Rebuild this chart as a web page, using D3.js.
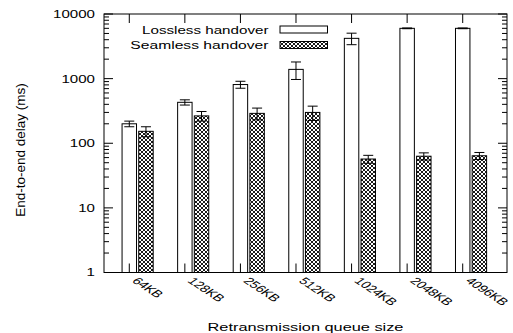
<!DOCTYPE html>
<html>
<head>
<meta charset="utf-8">
<script src="https://cdn.jsdelivr.net/npm/d3@7"></script>
<style>
  html, body { margin: 0; padding: 0; background: #fff; }
  svg text { font-family: "Liberation Sans", Arial, Helvetica, sans-serif; fill: #000; }
</style>
</head>
<body>
<div id="chart"></div>
<script>
// values
const categories = ["64KB", "128KB", "256KB", "512KB", "1024KB", "2048KB", "4096KB"];
const lossless = [200, 430, 810, 1390, 4200, 6000, 6000];
const losslessErr = [20, 40, 100, 420, 850, 80, 80];
const seamless = [153, 265, 290, 300, 57, 63, 64];
const seamlessErr = [27, 45, 60, 75, 8, 8, 8];
const yTicks = [1, 10, 100, 1000, 10000];
const seriesNames = ["Lossless handover", "Seamless handover"];

const width = 513, height = 333;
const margin = {top: 14, right: 6, bottom: 60.5, left: 104};
const plotW = width - margin.left - margin.right,
  plotH = height - margin.top - margin.bottom;

const svg = d3.select("#chart")
  .append("svg")
  .attr("width", width)
  .attr("height", height);

// the reference fonts are stretched wide, so text goes in a scaled group
function wideText(parent, tx, ty, sx, str, opts) {
  const t = parent.append("g")
    .attr("transform", "translate(" + tx + "," + ty + ")" + (opts.rotate ? " rotate(" + opts.rotate + ")" : "") + " scale(" + sx + ",1)")
    .append("text")
    .attr("font-size", opts.size || 11.5)
    .attr("text-anchor", opts.anchor || "start")
    .text(str);
  if (opts.dy) t.attr("dy", opts.dy);
  return t;
}

const defs = svg.append("defs");
const pat = defs.append("pattern")
  .attr("id", "crosshatch")
  .attr("patternUnits", "userSpaceOnUse")
  .attr("width", 4)
  .attr("height", 4);
pat.append("rect").attr("width", 4).attr("height", 4).attr("fill", "#fff");
pat.append("path")
  .attr("d", "M-1,-1 L5,5 M5,-1 L-1,5")
  .attr("stroke", "#000")
  .attr("stroke-width", 0.9);

const g = svg.append("g")
  .attr("transform", "translate(" + margin.left + "," + margin.top + ")");

const x = d3.scaleLinear()
  .domain([-0.455, categories.length - 1 + 0.797])
  .range([0, plotW]);

const y = d3.scaleLog()
  .domain([1, 10000])
  .range([plotH, 0]);

const barW = 0.26, offset = 0.3;
const bw = x(barW) - x(0);

// minor ticks
const minor = [];
for (let d = 1; d < 10000; d *= 10) {
  for (let k = 2; k <= 9; k++) minor.push(d * k);
}

// bars
const series = [
  {vals: lossless, errs: losslessErr, fill: "#fff", off: 0},
  {vals: seamless, errs: seamlessErr, fill: "url(#crosshatch)", off: offset}
];

series.forEach(s => {
  g.selectAll(null)
    .data(s.vals)
    .enter()
    .append("rect")
    .attr("x", (d, i) => x(i + s.off) - bw / 2)
    .attr("y", d => y(d))
    .attr("width", bw)
    .attr("height", d => plotH - y(d))
    .attr("fill", s.fill)
    .attr("stroke", "#000")
    .attr("stroke-width", 1);
});

// error bars
series.forEach(s => {
  const eb = g.selectAll(null)
    .data(s.vals.map((v, i) => ({v, e: s.errs[i], i})))
    .enter()
    .append("g")
    .attr("stroke", "#000")
    .attr("stroke-width", 1);
  eb.append("line")
    .attr("x1", d => x(d.i + s.off))
    .attr("x2", d => x(d.i + s.off))
    .attr("y1", d => y(d.v + d.e))
    .attr("y2", d => y(d.v - d.e));
  [1, -1].forEach(sign => {
    eb.append("line")
      .attr("x1", d => x(d.i + s.off) - 5)
      .attr("x2", d => x(d.i + s.off) + 5)
      .attr("y1", d => y(d.v + sign * d.e))
      .attr("y2", d => y(d.v + sign * d.e));
  });
});

// y ticks, left and mirrored right
const tickG = g.append("g").attr("stroke", "#000").attr("stroke-width", 1);
yTicks.forEach(t => {
  tickG.append("line").attr("x1", 0).attr("x2", 9).attr("y1", y(t)).attr("y2", y(t));
  tickG.append("line").attr("x1", plotW).attr("x2", plotW - 9).attr("y1", y(t)).attr("y2", y(t));
});
minor.forEach(t => {
  tickG.append("line").attr("x1", 0).attr("x2", 5).attr("y1", y(t)).attr("y2", y(t));
  tickG.append("line").attr("x1", plotW).attr("x2", plotW - 5).attr("y1", y(t)).attr("y2", y(t));
});
categories.forEach((c, i) => {
  tickG.append("line").attr("x1", x(i)).attr("x2", x(i)).attr("y1", plotH).attr("y2", plotH - 9);
  tickG.append("line").attr("x1", x(i)).attr("x2", x(i)).attr("y1", 0).attr("y2", 9);
});

yTicks.forEach(t => {
  wideText(g, -9, y(t), 1.37, t, {size: 11, anchor: "end", dy: "0.36em"});
});

// category labels: 45 degree text squashed like the reference (sheared look)
categories.forEach((c, i) => {
  g.append("g")
    .attr("transform", "translate(" + (x(i) + 2) + "," + (plotH + 9) + ") scale(1.3,0.85) rotate(45)")
    .append("text")
    .attr("font-size", 11.5)
    .text(c);
});

// frame
g.append("rect")
  .attr("width", plotW)
  .attr("height", plotH)
  .attr("fill", "none")
  .attr("stroke", "#000")
  .attr("stroke-width", 1);

// legend
seriesNames.forEach((name, i) => {
  const ly = 15.5 + i * 15.5;
  wideText(g, 268.5 - margin.left, ly + 4, i === 0 ? 1.32 : 1.36, name, {size: 11.5, anchor: "end"});
  g.append("rect")
    .attr("x", 280 - margin.left)
    .attr("y", ly - 3.5)
    .attr("width", 47.5)
    .attr("height", 7)
    .attr("fill", series[i].fill)
    .attr("stroke", "#000")
    .attr("stroke-width", 1);
});

// axis titles
wideText(svg, 24.5, 150, 1.08, "End-to-end delay (ms)", {size: 12.5, anchor: "middle", rotate: -90});
wideText(svg, margin.left + plotW / 2, 330.5, 1.42, "Retransmission queue size", {size: 11.5, anchor: "middle"});
</script>
</body>
</html>
